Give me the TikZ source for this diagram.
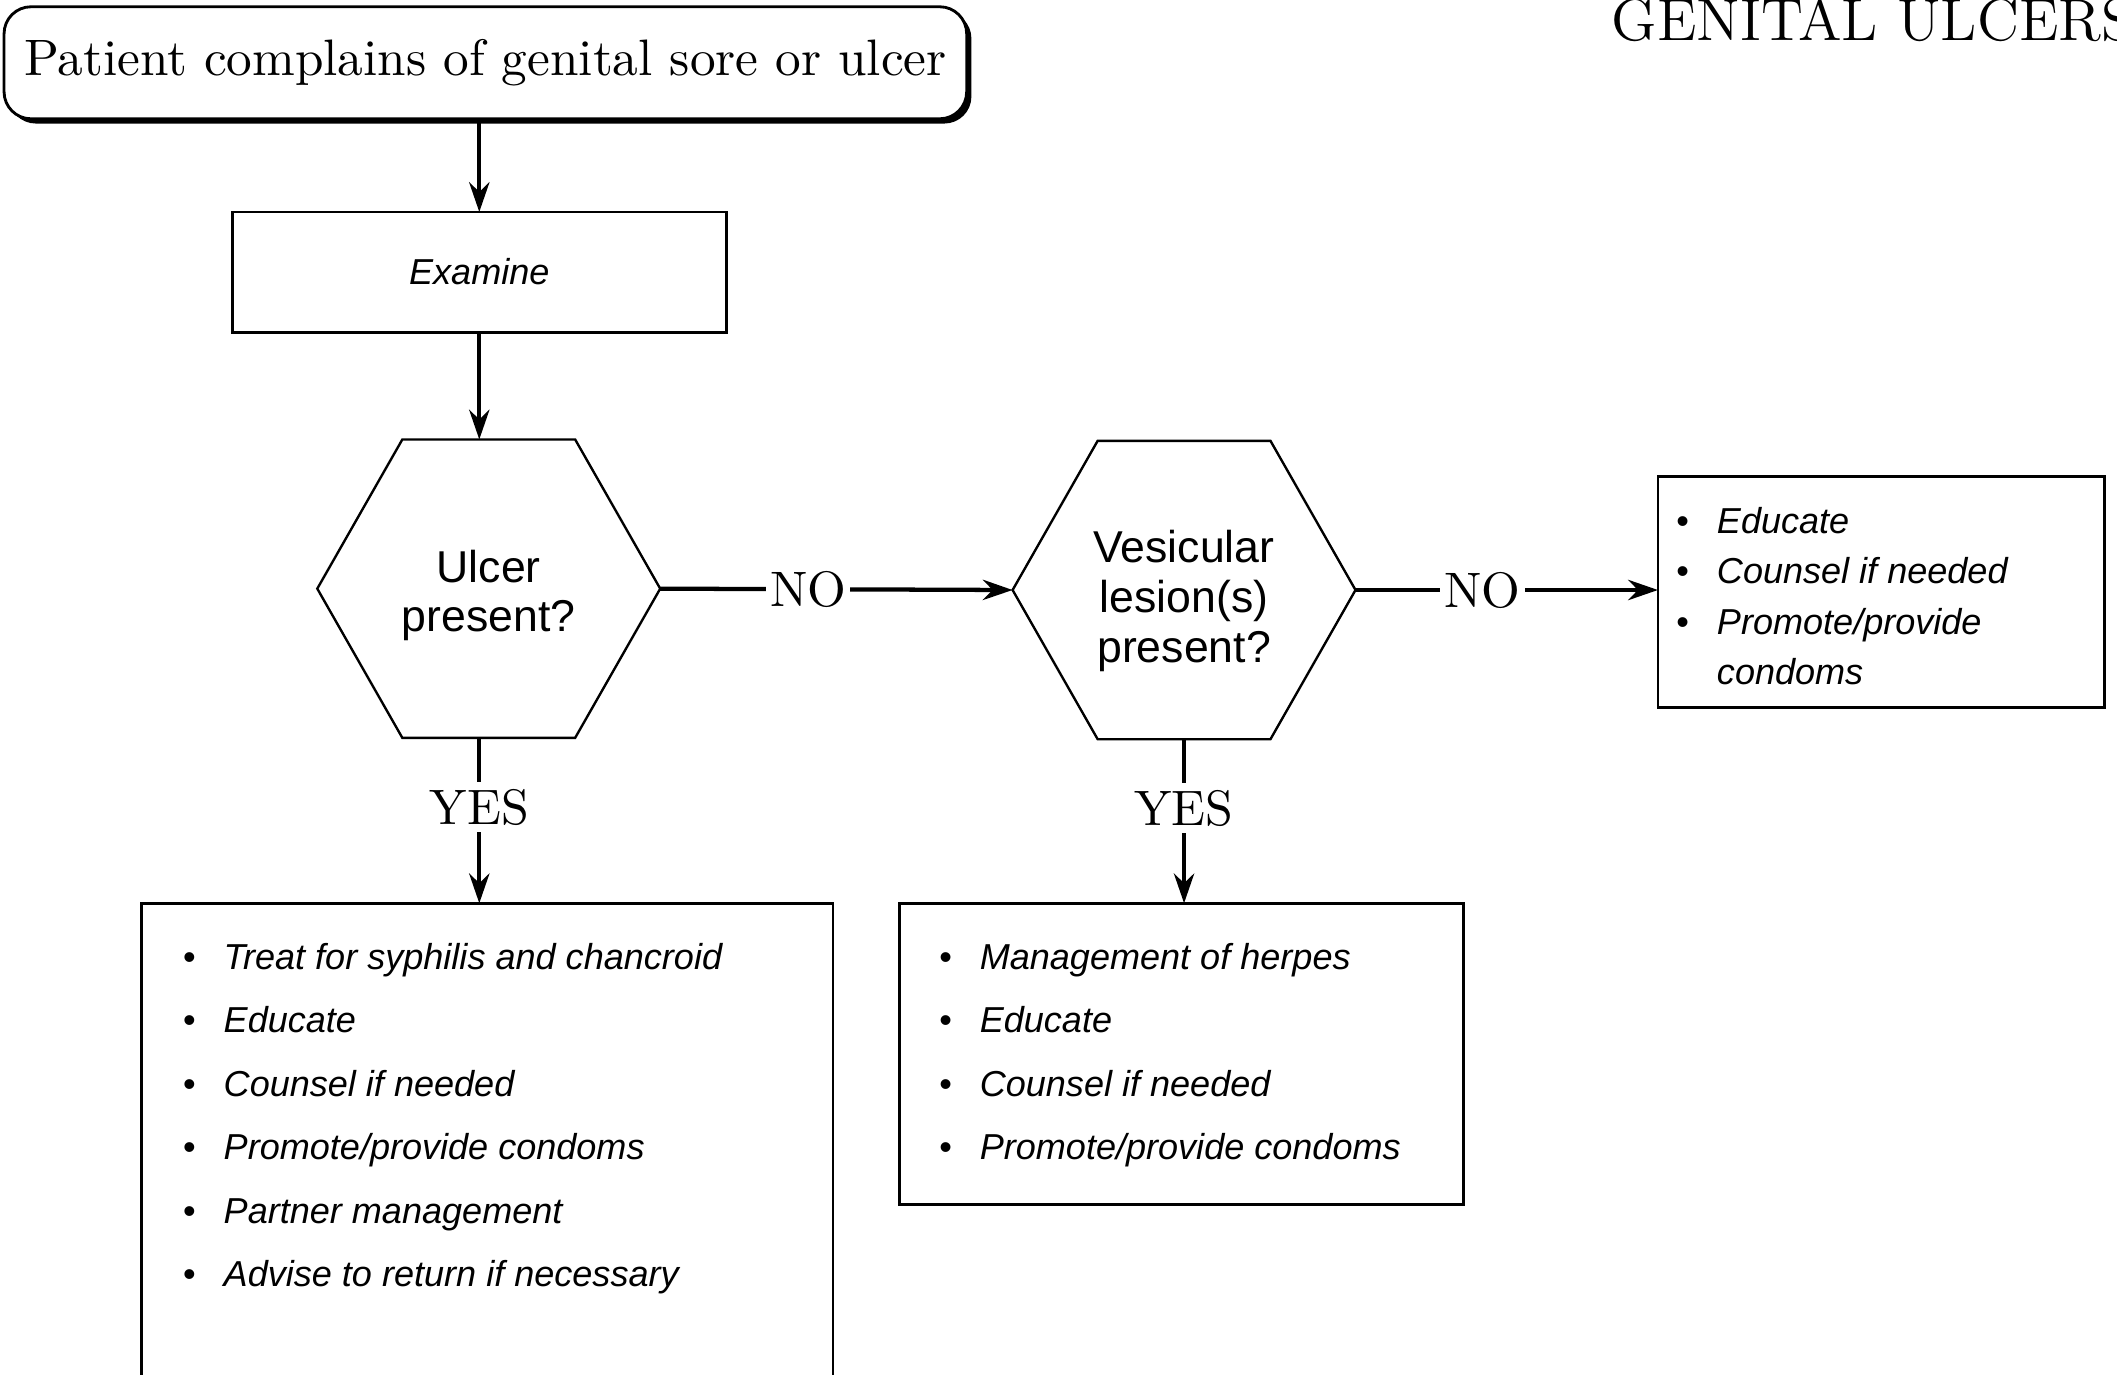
\documentclass[tikz,border=0pt]{standalone}
\usepackage{fontspec}
\newfontfamily\helv{Liberation Sans}
\usetikzlibrary{arrows.meta,shadows}
\newcommand{\listfont}{\helv\itshape\fontsize{7.6}{9}\selectfont}
\newcommand{\qfont}{\helv\fontsize{9.4}{10.5}\selectfont}
\newcommand{\labfont}{\fontsize{10.5}{12}\selectfont}
\begin{document}
\begin{tikzpicture}[x=0.1mm,y=-0.1mm,>={Stealth[length=2.2mm,width=1.5mm]}]
        \tikzstyle{box}=[draw,line width=0.6pt,inner sep=0pt,outer sep=0pt]
        \tikzstyle{startbox}=[box,rounded corners=2mm,fill=white,minimum width=71.3mm,minimum height=8.3mm,font=\fontsize{10.8}{13}\selectfont,drop shadow={shadow xshift=0.35mm,shadow yshift=-0.35mm,fill=black,opacity=1}]
        \tikzstyle{hexa}=[inner sep=0pt,outer sep=0pt,minimum width=25.4mm,minimum height=22.1mm]
        \tikzstyle{qtext}=[inner sep=0pt,align=center,font=\qfont]
        \tikzstyle{hexline}=[line width=0.5pt,line join=miter]
        \tikzstyle{edge}=[->,line width=0.9pt]
        \tikzstyle{answer}=[fill=white,inner xsep=0.3mm,inner ysep=0.5mm,font=\labfont,pos=0.42]
        \tikzstyle{itemtext}=[anchor=base west,inner sep=0pt,font=\listfont]
        \tikzstyle{item}=[itemtext,execute at begin node={\makebox[3mm][l]{\upshape\textbullet}}]

        \path[use as bounding box,fill=white] (0,0) rectangle (1568,1018);
        \clip (0,0) rectangle (1568,1018);

        % title
        \node[anchor=base west,inner sep=0pt,font=\fontsize{12.5}{14}\selectfont] (title) at (1193,30) {GENITAL ULCERS};

        % boxes and questions
        \node[startbox] (top) at (359.5,46.5) {\raisebox{-0.2mm}{Patient complains of genital sore or ulcer}};
        \node[box,minimum width=36.6mm,minimum height=8.9mm,font=\listfont] (exam) at (355,201.5) {Examine};
        \node[hexa] (q1) at (362,436) {};
        \node[hexa] (q2) at (877,437) {};
        \node[qtext] (q1t) at (362,441) {Ulcer\\present?};
        \node[qtext] (q2t) at (877,445) {Vesicular\\lesion(s)\\present?};
        \node[box,minimum width=33.1mm,minimum height=17.1mm] (cond3) at (1393.5,438.5) {};
        \node[box,minimum width=51.2mm,minimum height=45mm,anchor=north] (act1) at (361,669) {};
        \node[box,minimum width=41.8mm,minimum height=22.3mm] (act2) at (875,780.5) {};

        \foreach \q in {q1,q2}
          \draw[hexline] (\q.west) -- ([xshift=6.3mm]\q.north west) -- ([xshift=-6.3mm]\q.north east)
            -- (\q.east) -- ([xshift=-6.3mm]\q.south east) -- ([xshift=6.3mm]\q.south west) -- cycle;

        % lists
        \foreach \t [count=\i] in {Treat for syphilis and chancroid,Educate,Counsel if needed,Promote/provide condoms,Partner management,Advise to return if necessary}
          \node[item] (a\i) at (135,671+47*\i) {\t};
        \foreach \t [count=\i] in {Management of herpes,Educate,Counsel if needed,Promote/provide condoms}
          \node[item] (b\i) at (695,671+47*\i) {\t};
        \foreach \t [count=\i] in {Educate,Counsel if needed,Promote/provide}
          \node[item] (c\i) at (1241,357.5+37.5*\i) {\t};
        \node[itemtext] (c4) at (1271,507) {condoms};

        % connectors
        \path[edge] (top.south -| exam.north) edge (exam.north);
        \path[edge] (exam.south) edge (exam.south |- q1.north);
        \path[edge] (q1.east) edge node[answer] {NO} (q2.west);
        \path[edge] (q2.east) edge node[answer] {NO} (q2.east -| cond3.west);
        \path[edge] (q1.south -| exam.south) edge node[answer] {YES} (act1.north -| exam.south);
        \path[edge] (q2.south) edge node[answer] {YES} (q2.south |- act2.north);
\end{tikzpicture}
\end{document}
